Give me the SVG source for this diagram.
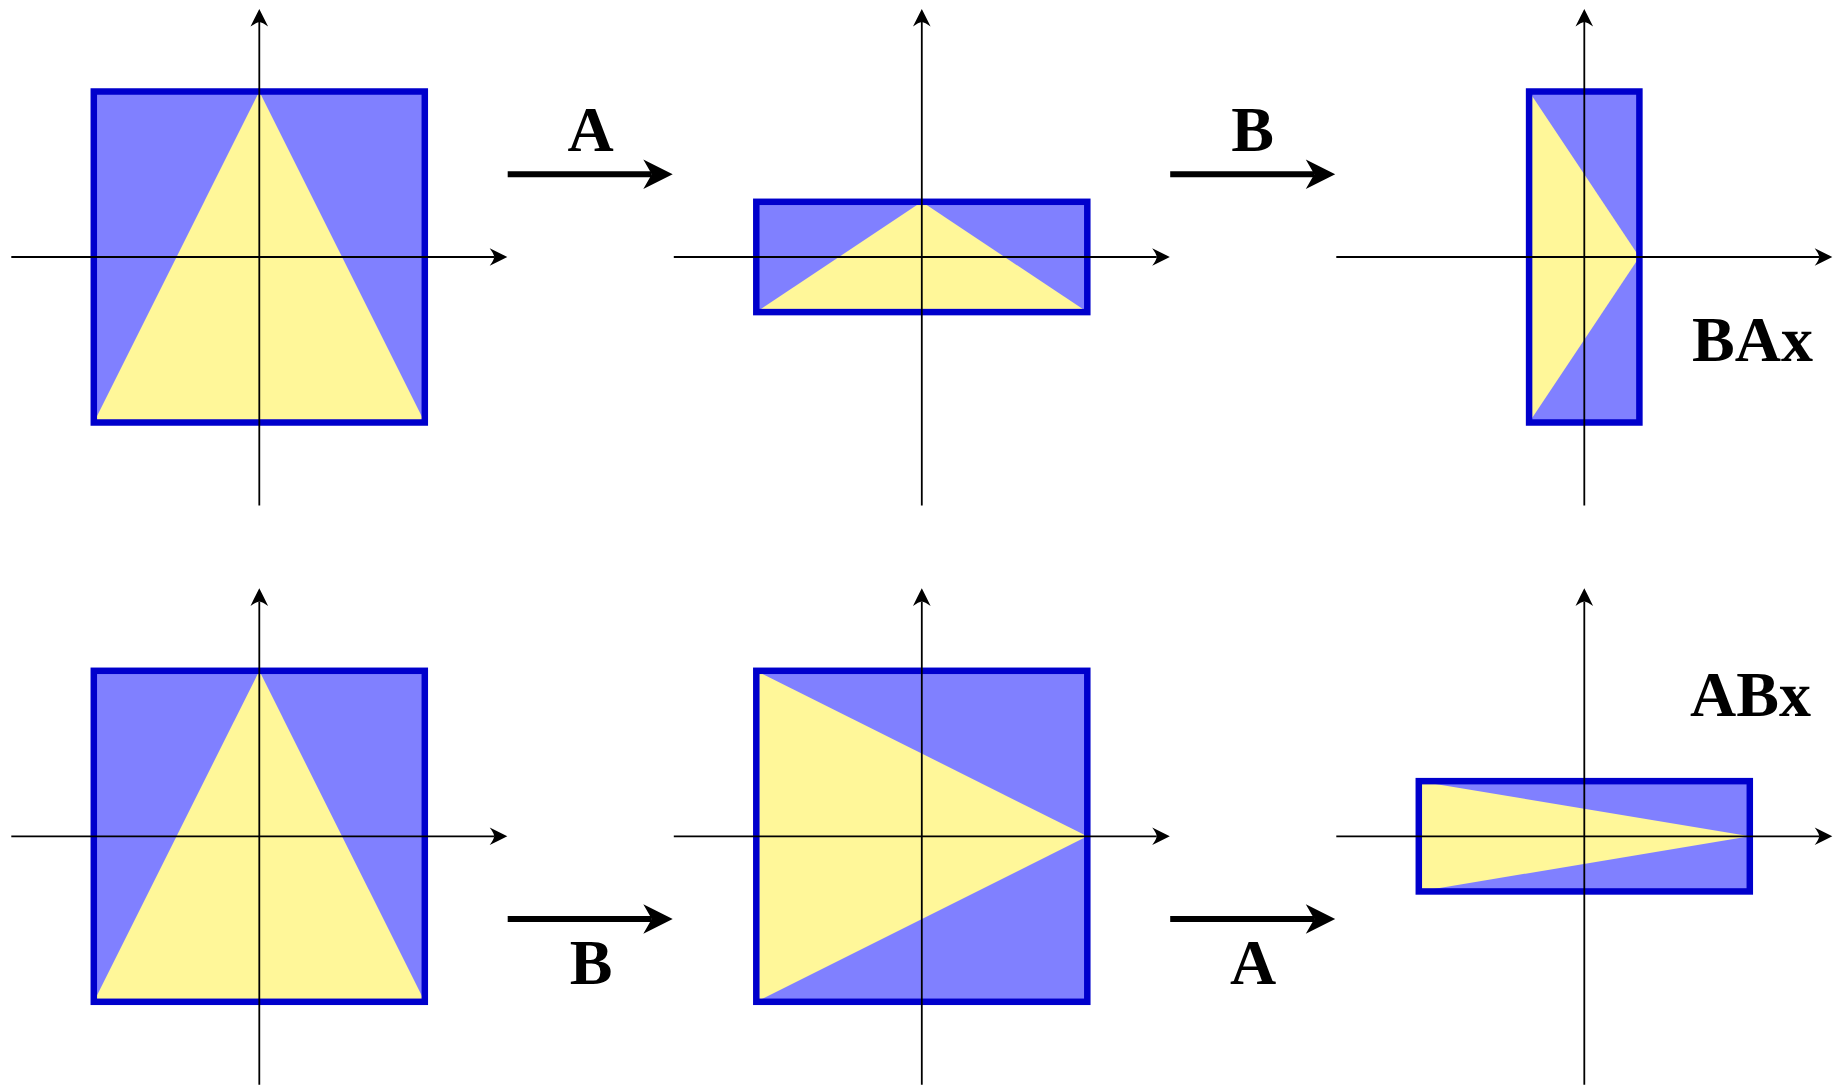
<svg xmlns="http://www.w3.org/2000/svg" width="1834" height="1086" viewBox="0 0 1834 1086">
<style>
.bg{fill:#8080FF;stroke:none}
.tri{fill:#FFF799;stroke:none}
.frame{fill:none;stroke:#0000CC;stroke-width:6.5}
.axis{stroke:#000;stroke-width:1.8;fill:none}
.conn{stroke:#000;stroke-width:6;fill:none}
.lbl{font-family:"Liberation Serif","DejaVu Serif",serif;font-weight:bold;font-size:64px;fill:#000}
</style>
<defs>
<marker id="ax" markerUnits="userSpaceOnUse" markerWidth="20" markerHeight="20" viewBox="0 -10 20 20" refX="4.5" refY="0" orient="auto" overflow="visible">
<path d="M17.6,0 Q9.5,-4.1 0,-8.8 Q4.2,-3.2 4.5,0 Q4.2,3.2 0,8.8 Q9.5,4.1 17.6,0 Z" fill="#000"/>
</marker>
<marker id="big" markerUnits="userSpaceOnUse" markerWidth="32" markerHeight="32" viewBox="0 -16 32 32" refX="8.5" refY="0" orient="auto" overflow="visible">
<path d="M29.4,0 L0,-14.8 L8.5,0 L0,14.8 Z" fill="#000"/>
</marker>
</defs>

<!-- Row 1, panel 1: x -->
<g id="panel-x-top">
<rect class="bg" x="93.8" y="91.5" width="331" height="331"/>
<polygon class="tri" points="259.3,91.5 93.8,422.5 424.8,422.5"/>
<rect class="frame" x="93.8" y="91.5" width="331" height="331"/>
<line class="axis" x1="11.3" y1="257" x2="494.2" y2="257" marker-end="url(#ax)"/>
<line class="axis" x1="259.3" y1="505.5" x2="259.3" y2="22.1" marker-end="url(#ax)"/>
</g>

<!-- Row 1, panel 2: Ax -->
<g id="panel-Ax">
<rect class="bg" x="756.3" y="201.8" width="331" height="110.3"/>
<polygon class="tri" points="921.8,201.8 756.3,312.1 1087.3,312.1"/>
<rect class="frame" x="756.3" y="201.8" width="331" height="110.3"/>
<line class="axis" x1="673.8" y1="257" x2="1156.7" y2="257" marker-end="url(#ax)"/>
<line class="axis" x1="921.8" y1="505.5" x2="921.8" y2="22.1" marker-end="url(#ax)"/>
</g>

<!-- Row 1, panel 3: BAx -->
<g id="panel-BAx">
<rect class="bg" x="1529.1" y="91.5" width="110.3" height="331"/>
<polygon class="tri" points="1529.1,91.5 1529.1,422.5 1639.4,257"/>
<rect class="frame" x="1529.1" y="91.5" width="110.3" height="331"/>
<line class="axis" x1="1336.3" y1="257" x2="1819.2" y2="257" marker-end="url(#ax)"/>
<line class="axis" x1="1584.3" y1="505.5" x2="1584.3" y2="22.1" marker-end="url(#ax)"/>
<text class="lbl" x="1692" y="361">BAx</text>
</g>

<!-- Row 2, panel 1: x -->
<g id="panel-x-bottom">
<rect class="bg" x="93.8" y="670.8" width="331" height="331"/>
<polygon class="tri" points="259.3,670.8 93.8,1001.8 424.8,1001.8"/>
<rect class="frame" x="93.8" y="670.8" width="331" height="331"/>
<line class="axis" x1="11.3" y1="836.3" x2="494.2" y2="836.3" marker-end="url(#ax)"/>
<line class="axis" x1="259.3" y1="1084.8" x2="259.3" y2="601.4" marker-end="url(#ax)"/>
</g>

<!-- Row 2, panel 2: Bx -->
<g id="panel-Bx">
<rect class="bg" x="756.3" y="670.8" width="331" height="331"/>
<polygon class="tri" points="1087.3,836.3 756.3,670.8 756.3,1001.8"/>
<rect class="frame" x="756.3" y="670.8" width="331" height="331"/>
<line class="axis" x1="673.8" y1="836.3" x2="1156.7" y2="836.3" marker-end="url(#ax)"/>
<line class="axis" x1="921.8" y1="1084.8" x2="921.8" y2="601.4" marker-end="url(#ax)"/>
</g>

<!-- Row 2, panel 3: ABx -->
<g id="panel-ABx">
<rect class="bg" x="1418.8" y="781.15" width="331" height="110.3"/>
<polygon class="tri" points="1749.8,836.3 1418.8,781.15 1418.8,891.45"/>
<rect class="frame" x="1418.8" y="781.15" width="331" height="110.3"/>
<line class="axis" x1="1336.3" y1="836.3" x2="1819.2" y2="836.3" marker-end="url(#ax)"/>
<line class="axis" x1="1584.3" y1="1084.8" x2="1584.3" y2="601.4" marker-end="url(#ax)"/>
<text class="lbl" x="1690" y="716">ABx</text>
</g>

<!-- Connectors between panels -->
<g id="connectors">
<line class="conn" x1="507.7" y1="174.3" x2="651.8" y2="174.3" marker-end="url(#big)"/>
<text class="lbl" x="590.5" y="151" text-anchor="middle">A</text>
<line class="conn" x1="1170.2" y1="174.3" x2="1314.3" y2="174.3" marker-end="url(#big)"/>
<text class="lbl" x="1252.5" y="151" text-anchor="middle">B</text>
<line class="conn" x1="507.7" y1="919" x2="651.8" y2="919" marker-end="url(#big)"/>
<text class="lbl" x="591" y="984" text-anchor="middle">B</text>
<line class="conn" x1="1170.2" y1="919" x2="1314.3" y2="919" marker-end="url(#big)"/>
<text class="lbl" x="1253" y="984" text-anchor="middle">A</text>
</g>
</svg>
